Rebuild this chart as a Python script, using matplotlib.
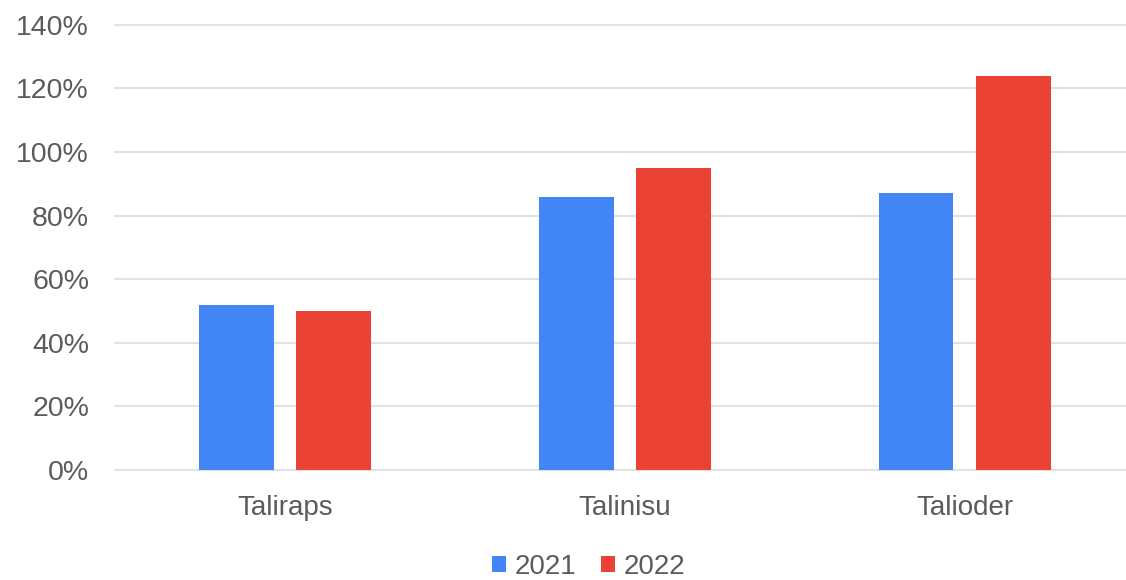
import matplotlib
matplotlib.use("Agg")
import matplotlib.pyplot as plt
from matplotlib.patches import Patch
import numpy as np

categories = ["Taliraps", "Talinisu", "Talioder"]
series_names = ["2021", "2022"]
values_2021 = [0.52, 0.86, 0.87]
values_2022 = [0.50, 0.95, 1.24]
y_ticks = [0.0, 0.2, 0.4, 0.6, 0.8, 1.0, 1.2, 1.4]

blue = "#4285F4"
red = "#EA4335"
text_color = "#5b5b5b"
grid_color = "#e2e2e2"

plt.rcParams["font.family"] = ["Liberation Sans", "DejaVu Sans"]

W, H = 1126, 580
fig = plt.figure(figsize=(W / 100, H / 100), dpi=100)

px_per_unit = 318.0
y_lo, y_hi = -0.01, 1.414
ax_bottom_px = 470 + (0 - y_lo) * px_per_unit
ax_height_px = (y_hi - y_lo) * px_per_unit
ax = fig.add_axes([114 / W, (H - ax_bottom_px) / H, 1 - 114 / W, ax_height_px / H])

x = np.arange(len(categories))
bar_w = 0.22
offset = 0.1435
ax.bar(x - offset, values_2021, bar_w, color=blue, zorder=3)
ax.bar(x + offset, values_2022, bar_w, color=red, zorder=3)

ax.set_xlim(-0.503, 2.474)
ax.set_ylim(y_lo, y_hi)
ax.set_yticks(y_ticks)
ax.set_yticklabels([f"{int(round(t * 100))}%" for t in y_ticks])
ax.set_xticks(x)
ax.set_xticklabels(categories)

ax.tick_params(axis="y", length=0, pad=18, labelsize=20.5, labelcolor=text_color)
ax.tick_params(axis="x", length=0, pad=16, labelsize=20, labelcolor=text_color)
ax.grid(axis="y", color=grid_color, linewidth=1.5, zorder=0)
ax.grid(axis="x", visible=False)
for s in ax.spines.values():
    s.set_visible(False)

handles = [Patch(facecolor=blue, edgecolor="none"), Patch(facecolor=red, edgecolor="none")]
fig.legend(handles, series_names, loc="center", bbox_to_anchor=(588.5 / W, (H - 567) / H),
           ncol=2, frameon=False, fontsize=20, labelcolor=text_color,
           handlelength=0.5, handleheight=0.5, handletextpad=0.3,
           columnspacing=0.9, borderpad=0)

fig.savefig("out.png", dpi=100, facecolor="white")
